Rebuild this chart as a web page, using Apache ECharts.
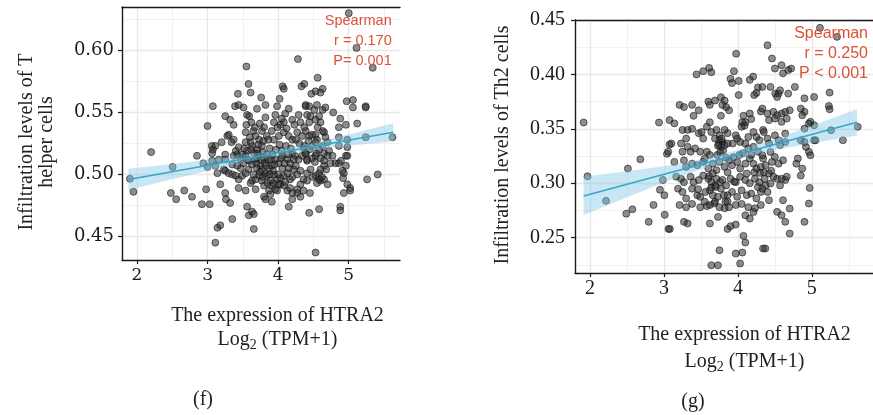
<!DOCTYPE html>
<html style="height: 100%">

<head>
    <meta charset="utf-8">
    <title>HTRA2 vs T helper / Th2 infiltration</title>
</head>

<body style="height: 100%; margin: 0; background: #fff">
    <div id="container" style="width: 873px; height: 415px"></div>
    <script src="https://cdn.jsdelivr.net/npm/echarts@6/dist/echarts.min.js"></script>
    <script type="text/javascript">
        // ---- data ----
        var xTicks = [2, 3, 4, 5];
        var xMinor = [1.5, 2.5, 3.5, 4.5, 5.5];
        var yTicksF = [0.45, 0.50, 0.55, 0.60];
        var yMinorF = [0.425, 0.475, 0.525, 0.575, 0.625];
        var yTicksG = [0.25, 0.30, 0.35, 0.40, 0.45];
        var yMinorG = [0.225, 0.275, 0.325, 0.375, 0.425];

        // (f) T helper cells
        var pointsF = [
            [1.90, 0.4965], [1.95, 0.486], [2.20, 0.518], [2.505, 0.506], [2.48, 0.485], [2.556, 0.480],
            [2.67, 0.487], [2.78, 0.482], [2.85, 0.515], [2.92, 0.476], [2.94, 0.509], [3.0, 0.539],
            [3.075, 0.555], [2.98, 0.488], [3.03, 0.476], [3.0, 0.506], [3.06, 0.523], [3.075, 0.520],
            [3.55, 0.587], [3.58, 0.573], [3.61, 0.566], [3.43, 0.565], [3.39, 0.555], [3.44, 0.556],
            [3.51, 0.554], [3.76, 0.562], [3.70, 0.553], [3.82, 0.556], [3.985, 0.555], [4.065, 0.571],
            [4.08, 0.569], [4.02, 0.561], [4.28, 0.593], [4.33, 0.571], [4.15, 0.553], [4.10, 0.549],
            [3.25, 0.547], [3.32, 0.544], [3.37, 0.540], [3.30, 0.532], [3.56, 0.548], [3.59, 0.547],
            [3.62, 0.542], [3.82, 0.546], [3.94, 0.542], [3.96, 0.548], [4.03, 0.540], [4.08, 0.542],
            [4.20, 0.544], [4.29, 0.548], [4.315, 0.542], [4.39, 0.555], [3.11, 0.523], [3.20, 0.526],
            [3.065, 0.517], [3.37, 0.528], [3.34, 0.526], [3.28, 0.531], [3.54, 0.534], [3.65, 0.535],
            [3.68, 0.531], [3.73, 0.528], [3.77, 0.535], [3.84, 0.531], [3.63, 0.523], [3.54, 0.526],
            [3.56, 0.519], [3.70, 0.520], [3.77, 0.523], [3.91, 0.535], [3.94, 0.528], [4.01, 0.531],
            [4.08, 0.534], [4.15, 0.531], [4.20, 0.528], [4.27, 0.534], [4.34, 0.531], [4.39, 0.535],
            [3.25, 0.516], [3.16, 0.512], [3.25, 0.512], [3.37, 0.515], [3.42, 0.516], [3.49, 0.516],
            [3.54, 0.515], [3.065, 0.511], [3.11, 0.507], [3.14, 0.501], [3.23, 0.504], [3.25, 0.503],
            [3.30, 0.501], [3.35, 0.508], [3.42, 0.507], [3.47, 0.505], [3.51, 0.509], [3.585, 0.511],
            [3.63, 0.508], [3.68, 0.512], [3.73, 0.515], [3.80, 0.513], [3.84, 0.516], [3.75, 0.507],
            [3.77, 0.504], [3.82, 0.501], [3.87, 0.505], [3.91, 0.507], [3.96, 0.512], [4.01, 0.509],
            [4.06, 0.515], [4.13, 0.512], [4.17, 0.509], [4.20, 0.517], [4.24, 0.515], [4.29, 0.512],
            [4.34, 0.515], [4.39, 0.517], [4.41, 0.511], [3.35, 0.500], [3.40, 0.499], [3.44, 0.496],
            [3.49, 0.499], [3.54, 0.501], [3.63, 0.495], [3.68, 0.496], [3.73, 0.499], [3.77, 0.495],
            [3.80, 0.491], [3.84, 0.499], [3.89, 0.495], [3.94, 0.500], [3.985, 0.496], [4.03, 0.492],
            [4.08, 0.499], [4.13, 0.501], [4.17, 0.496], [4.22, 0.504], [4.27, 0.500], [4.315, 0.503],
            [4.36, 0.496], [4.41, 0.501], [3.44, 0.489], [3.54, 0.487], [3.61, 0.493], [3.68, 0.488],
            [3.80, 0.482], [3.87, 0.487], [3.91, 0.491], [3.96, 0.488], [4.01, 0.492], [4.08, 0.491],
            [4.13, 0.487], [4.17, 0.489], [4.20, 0.485], [4.27, 0.488], [4.315, 0.492], [4.36, 0.487],
            [3.18, 0.492], [3.25, 0.485], [3.26, 0.480], [3.32, 0.477], [3.35, 0.464], [3.14, 0.457],
            [3.18, 0.459], [3.11, 0.445], [3.56, 0.474], [3.63, 0.470], [3.655, 0.468], [3.585, 0.467],
            [3.655, 0.456], [3.82, 0.480], [3.89, 0.484], [3.985, 0.487], [3.91, 0.478], [4.15, 0.474],
            [4.20, 0.480], [4.27, 0.485], [4.315, 0.482],
            [5.0, 0.630], [5.11, 0.602], [5.34, 0.586], [4.56, 0.578], [4.37, 0.573], [4.63, 0.569],
            [4.53, 0.567], [4.60, 0.566], [4.47, 0.565], [4.97, 0.559], [5.06, 0.560], [5.06, 0.554],
            [5.24, 0.555], [5.24, 0.554], [4.39, 0.556], [4.44, 0.555], [4.51, 0.552], [4.55, 0.556],
            [4.63, 0.552], [4.67, 0.554], [4.78, 0.550], [4.41, 0.548], [4.46, 0.547], [4.53, 0.544],
            [4.58, 0.547], [4.60, 0.542], [4.44, 0.542], [4.37, 0.538], [4.88, 0.545], [4.86, 0.538],
            [4.96, 0.540], [5.12, 0.541], [4.44, 0.531], [4.53, 0.532], [4.55, 0.528], [4.65, 0.534],
            [4.67, 0.530], [4.63, 0.535], [4.70, 0.526], [4.86, 0.530], [4.98, 0.528], [5.24, 0.530],
            [5.62, 0.530], [4.37, 0.523], [4.44, 0.520], [4.48, 0.523], [4.53, 0.526], [4.58, 0.520],
            [4.63, 0.523], [4.65, 0.517], [4.72, 0.519], [4.39, 0.517], [4.86, 0.523], [4.98, 0.522],
            [4.96, 0.515], [4.41, 0.512], [4.48, 0.513], [4.53, 0.515], [4.60, 0.513], [4.65, 0.511],
            [4.70, 0.515], [4.77, 0.515], [4.81, 0.509], [4.86, 0.509], [4.89, 0.511], [4.96, 0.507],
            [4.98, 0.515], [4.46, 0.504], [4.58, 0.501], [4.65, 0.507], [4.91, 0.503], [4.93, 0.501],
            [4.53, 0.499], [4.58, 0.496], [4.60, 0.495], [4.65, 0.496], [4.70, 0.492], [4.55, 0.493],
            [4.41, 0.495], [4.92, 0.497], [4.98, 0.492], [5.02, 0.489], [5.02, 0.487], [4.93, 0.485],
            [5.26, 0.496], [5.41, 0.500], [4.45, 0.485], [4.44, 0.469], [4.58, 0.472], [4.88, 0.474],
            [4.88, 0.471], [4.53, 0.437],
            [3.62, 0.520], [3.66, 0.517], [3.70, 0.513], [3.72, 0.524], [3.78, 0.518], [3.81, 0.509],
            [3.86, 0.512], [3.88, 0.521], [3.92, 0.516], [3.97, 0.520], [4.02, 0.524], [4.05, 0.519],
            [4.11, 0.523], [4.14, 0.516], [4.18, 0.521], [3.60, 0.530], [3.67, 0.538], [3.74, 0.541],
            [3.80, 0.538], [3.86, 0.528], [3.99, 0.538], [4.05, 0.545], [4.12, 0.537], [4.23, 0.540],
            [3.58, 0.504], [3.65, 0.500], [3.70, 0.505], [3.78, 0.498], [3.85, 0.493], [3.93, 0.503],
            [4.00, 0.500], [4.06, 0.505], [4.10, 0.494], [4.20, 0.498], [4.25, 0.507], [3.52, 0.521],
            [3.47, 0.512], [3.44, 0.522], [3.40, 0.519], [3.55, 0.540], [4.30, 0.525], [4.36, 0.521],
            [4.25, 0.528], [4.43, 0.527], [4.48, 0.532], [4.56, 0.538], [4.52, 0.510], [4.68, 0.504],
            [4.74, 0.509], [4.62, 0.498],
            [3.71, 0.517], [3.76, 0.512], [3.74, 0.502], [3.83, 0.507], [3.90, 0.512], [3.79, 0.527],
            [3.95, 0.508], [4.04, 0.513], [4.09, 0.509], [3.57, 0.512], [3.61, 0.526], [3.69, 0.509],
            [4.15, 0.505], [4.22, 0.512], [3.88, 0.500], [3.93, 0.493], [4.03, 0.497], [4.54, 0.517],
            [4.60, 0.504], [4.49, 0.498]
        ];
        var fitXF = [1.88, 5.63];
        var fitYF = [0.496, 0.534];
        var bandXF = [1.88, 2.5, 3, 3.5, 4, 4.5, 5, 5.63];
        var bandHiF = [0.5045, 0.5085, 0.5118, 0.5154, 0.5201, 0.5255, 0.5321, 0.5412];
        var bandLoF = [0.4875, 0.4961, 0.5028, 0.5094, 0.5149, 0.5195, 0.5231, 0.5268];

        // (g) Th2 cells
        var pointsG = [
            [1.913, 0.3558], [1.965, 0.3064], [2.216, 0.2838], [2.511, 0.3135], [2.68, 0.322], [2.932, 0.3558],
            [3.075, 0.358], [2.49, 0.272], [2.572, 0.276], [2.793, 0.2645], [2.858, 0.280], [2.984, 0.303],
            [2.945, 0.294], [3.005, 0.289], [3.01, 0.271], [3.06, 0.258], [3.04, 0.327], [3.075, 0.3355],
            [3.976, 0.419], [3.44, 0.400], [3.53, 0.403], [3.61, 0.406], [3.64, 0.402], [3.946, 0.403],
            [3.90, 0.396], [3.92, 0.392], [4.01, 0.394], [4.206, 0.398], [4.16, 0.395], [4.27, 0.388],
            [4.25, 0.383], [4.22, 0.381], [4.01, 0.381], [3.21, 0.372], [3.27, 0.370], [3.38, 0.372],
            [3.47, 0.367], [3.40, 0.362], [3.60, 0.375], [3.62, 0.372], [3.69, 0.376], [3.77, 0.379],
            [3.82, 0.376], [3.79, 0.372], [3.84, 0.370], [3.77, 0.362], [3.88, 0.367], [4.075, 0.362],
            [4.16, 0.364], [4.10, 0.356], [4.05, 0.352], [4.18, 0.359], [4.31, 0.366], [3.14, 0.355],
            [3.25, 0.349], [3.32, 0.349], [3.30, 0.341], [3.38, 0.350], [3.47, 0.346], [3.51, 0.347],
            [3.53, 0.341], [3.58, 0.352], [3.62, 0.356], [3.64, 0.347], [3.71, 0.349], [3.75, 0.344],
            [3.69, 0.341], [3.82, 0.349], [3.86, 0.346], [3.75, 0.3395], [3.79, 0.338], [3.77, 0.3335],
            [3.82, 0.335], [3.86, 0.3365], [3.99, 0.341], [3.97, 0.344], [4.03, 0.338], [4.10, 0.3365],
            [4.14, 0.3425], [4.21, 0.347], [4.25, 0.3425], [4.29, 0.3395], [4.34, 0.349], [4.14, 0.332],
            [4.21, 0.3335], [4.27, 0.329], [3.10, 0.3365], [3.057, 0.329], [3.23, 0.3365], [3.25, 0.329],
            [3.32, 0.3335], [3.36, 0.329], [3.42, 0.332], [3.49, 0.329], [3.58, 0.329], [3.62, 0.326],
            [3.14, 0.3196], [3.27, 0.321], [3.30, 0.315], [3.38, 0.318], [3.45, 0.3165], [3.53, 0.3196],
            [3.60, 0.3135], [3.66, 0.318], [3.71, 0.312], [3.75, 0.3196], [3.82, 0.315], [3.86, 0.310],
            [3.92, 0.3165], [3.99, 0.3196], [4.03, 0.3135], [4.10, 0.318], [4.16, 0.3227], [4.21, 0.318],
            [4.25, 0.3135], [4.31, 0.315], [4.34, 0.3227], [3.165, 0.306], [3.23, 0.304], [3.27, 0.301],
            [3.36, 0.306], [3.40, 0.301], [3.47, 0.303], [3.53, 0.307], [3.60, 0.304], [3.64, 0.301],
            [3.71, 0.304], [3.79, 0.303], [3.84, 0.298], [3.90, 0.304], [3.97, 0.301], [4.03, 0.306],
            [4.10, 0.303], [4.16, 0.300], [4.23, 0.304], [4.29, 0.301], [4.36, 0.304], [3.19, 0.295],
            [3.25, 0.292], [3.30, 0.286], [3.38, 0.295], [3.45, 0.289], [3.49, 0.2875], [3.56, 0.292],
            [3.62, 0.2935], [3.66, 0.289], [3.73, 0.2875], [3.77, 0.295], [3.86, 0.289], [3.92, 0.292],
            [3.99, 0.2875], [4.05, 0.2935], [4.12, 0.289], [4.18, 0.2905], [4.25, 0.286], [4.31, 0.292],
            [3.21, 0.280], [3.30, 0.278], [3.38, 0.281], [3.49, 0.278], [3.62, 0.280], [3.69, 0.283],
            [3.75, 0.278], [3.82, 0.277], [3.88, 0.278], [3.97, 0.280], [4.05, 0.281], [4.14, 0.278],
            [4.23, 0.277], [4.31, 0.280], [3.08, 0.258], [3.27, 0.2645], [3.32, 0.263], [3.62, 0.263],
            [3.73, 0.269], [3.86, 0.258], [3.90, 0.2605], [3.97, 0.262], [4.10, 0.2705], [4.16, 0.2675],
            [4.21, 0.2735], [4.075, 0.2516], [4.10, 0.2455], [3.75, 0.2384], [3.97, 0.2354], [4.06, 0.2363],
            [3.64, 0.2246], [3.73, 0.2246], [4.03, 0.2262], [4.34, 0.240],
            [5.11, 0.4428], [5.34, 0.4345], [4.40, 0.4268], [4.46, 0.4146], [4.59, 0.4085], [4.61, 0.401],
            [4.68, 0.404], [4.72, 0.4054], [4.50, 0.4054], [4.33, 0.3885], [4.44, 0.3885], [4.505, 0.3824],
            [4.55, 0.3824], [4.53, 0.3793], [4.57, 0.3854], [4.68, 0.3824], [4.77, 0.3885], [4.90, 0.378],
            [5.03, 0.3793], [5.24, 0.3833], [5.23, 0.371], [5.24, 0.368], [4.33, 0.3686], [4.40, 0.364],
            [4.48, 0.3656], [4.53, 0.3625], [4.59, 0.364], [4.64, 0.3656], [4.70, 0.367], [4.42, 0.358],
            [4.50, 0.3594], [4.59, 0.3564], [4.66, 0.3594], [4.85, 0.3686], [4.90, 0.3656], [4.87, 0.3625],
            [4.98, 0.3564], [4.96, 0.3548], [5.03, 0.3533], [4.90, 0.3502], [5.26, 0.3487], [5.42, 0.3395],
            [5.62, 0.3518], [5.03, 0.3395], [5.05, 0.3395], [4.35, 0.347], [4.40, 0.341], [4.50, 0.344],
            [4.55, 0.3395], [4.57, 0.335], [4.64, 0.338], [4.42, 0.3365], [4.64, 0.3456], [4.85, 0.3395],
            [4.92, 0.3334], [4.96, 0.3288], [4.98, 0.3257], [4.90, 0.338], [4.33, 0.3257], [4.44, 0.3288],
            [4.50, 0.3242], [4.46, 0.3196], [4.375, 0.3165], [4.55, 0.318], [4.61, 0.3211], [4.81, 0.3227],
            [4.87, 0.3135], [4.79, 0.318], [4.35, 0.310], [4.42, 0.309], [4.48, 0.306], [4.53, 0.304],
            [4.59, 0.304], [4.64, 0.303], [4.66, 0.306], [4.85, 0.307], [4.375, 0.298], [4.44, 0.2997],
            [4.40, 0.292], [4.33, 0.295], [4.57, 0.298], [4.42, 0.2844], [4.61, 0.2844], [4.97, 0.2957],
            [4.96, 0.2813], [4.70, 0.2767], [4.53, 0.2737], [4.59, 0.2706], [4.90, 0.2645], [4.64, 0.2645],
            [4.70, 0.2537], [4.37, 0.240],
            [3.74, 0.336], [3.78, 0.341], [3.80, 0.330], [3.72, 0.326], [3.66, 0.309], [3.69, 0.298],
            [3.76, 0.301], [3.81, 0.289], [3.64, 0.296], [4.06, 0.356], [4.09, 0.353], [4.02, 0.326],
            [4.18, 0.326], [4.22, 0.310], [4.12, 0.309], [3.94, 0.324], [3.88, 0.321], [3.55, 0.283],
            [3.58, 0.279], [3.83, 0.283], [3.86, 0.283],
            [3.73, 0.3345], [3.76, 0.3285], [3.70, 0.2965], [3.61, 0.3065], [3.93, 0.3365], [4.07, 0.3275],
            [4.30, 0.3095], [4.45, 0.3115], [3.95, 0.3015], [3.55, 0.3225], [3.46, 0.2945], [4.27, 0.2965],
            [3.68, 0.2815], [3.84, 0.3235]
        ];
        var fitXG = [1.913, 5.61];
        var fitYG = [0.2883, 0.356];
        var bandXG = [1.913, 2.5, 3, 3.5, 4, 4.5, 5, 5.61];
        var bandHiG = [0.3059, 0.3110, 0.3157, 0.3218, 0.3305, 0.3406, 0.3528, 0.3682];
        var bandLoG = [0.2707, 0.2870, 0.3007, 0.3128, 0.3225, 0.3306, 0.3368, 0.3438];

        // ---- styles ----
        var ink = '#1a1a1a';
        var red = '#dd5236';
        var lineBlue = '#35a7c8';
        var bandFill = 'rgba(125, 195, 228, 0.42)';
        var serif = '"Liberation Serif", "DejaVu Serif", serif';

        var myChart = echarts.init(document.getElementById('container'), null, { renderer: 'canvas' });

        function mainX(grid, min, max, font, size, margin) {
            return {
                type: 'value', gridIndex: grid, min: min, max: max, position: 'bottom',
                axisLine: { show: true, lineStyle: { color: ink, width: 1.4 } },
                axisTick: { show: true, length: 4, customValues: xTicks, lineStyle: { color: ink, width: 1.2 } },
                axisLabel: { customValues: xTicks, color: ink, fontFamily: font, fontSize: size, margin: margin },
                splitLine: { show: true, lineStyle: { color: '#e8e8e8', width: 1.4 } }
            };
        }
        function minorX(grid, min, max) {
            return {
                type: 'value', gridIndex: grid, min: min, max: max, position: 'top',
                axisLine: { show: true, lineStyle: { color: ink, width: 1.4 } },
                axisTick: { show: false, customValues: xMinor },
                axisLabel: { show: false },
                splitLine: { show: true, lineStyle: { color: '#efefef', width: 0.9 } }
            };
        }
        function mainY(grid, min, max, ticks, font, size, margin) {
            return {
                type: 'value', gridIndex: grid, min: min, max: max, position: 'left',
                axisLine: { show: true, lineStyle: { color: ink, width: 1.4 } },
                axisTick: { show: true, length: 4, customValues: ticks, lineStyle: { color: ink, width: 1.2 } },
                axisLabel: {
                    customValues: ticks, color: ink, fontFamily: font, fontSize: size, margin: margin,
                    formatter: function (v) { return v.toFixed(2); }
                },
                splitLine: { show: true, lineStyle: { color: '#e8e8e8', width: 1.4 } }
            };
        }
        function minorY(grid, min, max, ticks) {
            return {
                type: 'value', gridIndex: grid, min: min, max: max, position: 'right',
                axisLine: { show: false },
                axisTick: { show: false, customValues: ticks },
                axisLabel: { show: false },
                splitLine: { show: true, lineStyle: { color: '#efefef', width: 0.9 } }
            };
        }

        function bandSeries(xi, yi, bx, hi, lo) {
            return {
                type: 'custom', xAxisIndex: xi, yAxisIndex: yi, z: 4, silent: true,
                data: [0],
                renderItem: function (params, api) {
                    var pts = [];
                    for (var i = 0; i < bx.length; i++) pts.push(api.coord([bx[i], hi[i]]));
                    for (var j = bx.length - 1; j >= 0; j--) pts.push(api.coord([bx[j], lo[j]]));
                    return { type: 'polygon', shape: { points: pts }, style: { fill: bandFill } };
                }
            };
        }
        function pointSeries(xi, yi, pts) {
            return {
                type: 'scatter', xAxisIndex: xi, yAxisIndex: yi, z: 3, symbolSize: 7, data: pts,
                itemStyle: { color: 'rgba(45, 45, 45, 0.68)', borderColor: 'rgba(15, 15, 15, 0.7)', borderWidth: 1 }
            };
        }
        function fitSeries(xi, yi, fx, fy) {
            return {
                type: 'line', xAxisIndex: xi, yAxisIndex: yi, z: 5, showSymbol: false,
                data: fx.map(function (x, i) { return [x, fy[i]]; }),
                lineStyle: { color: lineBlue, width: 1.5 }
            };
        }

        function txt(x, y, text, font, color, align, rot) {
            return {
                type: 'text', x: x, y: y, rotation: rot || 0, z: 10,
                style: {
                    text: text, font: font, fill: color,
                    align: align, textAlign: align, verticalAlign: 'middle', textVerticalAlign: 'middle',
                    lineHeight: 20
                }
            };
        }
        function logText(x, y) {
            return {
                type: 'text', x: x, y: y, z: 10,
                style: {
                    text: '{n|Log}{s|2}{n| (TPM+1)}',
                    align: 'center', textAlign: 'center', verticalAlign: 'middle', textVerticalAlign: 'middle',
                    fill: '#222',
                    rich: {
                        n: { fontFamily: serif, fontSize: 20, lineHeight: 24, color: '#222' },
                        s: { fontFamily: serif, fontSize: 14, lineHeight: 10, verticalAlign: 'bottom', color: '#222' }
                    }
                }
            };
        }

        var option = {
            animation: false,
            backgroundColor: '#fff',
            grid: [
                { left: 122, top: 7, width: 278, height: 253, show: false },
                { left: 575, top: 20, width: 310, height: 253, show: false }
            ],
            xAxis: [
                mainX(0, 1.788, 5.726, '"DejaVu Serif", serif', 17, 7),
                minorX(0, 1.788, 5.726),
                mainX(1, 1.796, 5.827, serif, 20, 6),
                minorX(1, 1.796, 5.827)
            ],
            yAxis: [
                mainY(0, 0.431, 0.635, yTicksF, '"DejaVu Serif", serif', 18, 8),
                minorY(0, 0.431, 0.635, yMinorF),
                mainY(1, 0.2175, 0.45, yTicksG, serif, 20, 10),
                minorY(1, 0.2175, 0.45, yMinorG)
            ],
            series: [
                pointSeries(0, 0, pointsF),
                bandSeries(0, 0, bandXF, bandHiF, bandLoF),
                fitSeries(0, 0, fitXF, fitYF),
                pointSeries(2, 2, pointsG),
                bandSeries(2, 2, bandXG, bandHiG, bandLoG),
                fitSeries(2, 2, fitXG, fitYG)
            ],
            graphic: [
                txt(391.7, 20.7, 'Spearman', '14.5px "Liberation Sans", Arial, sans-serif', red, 'right'),
                txt(391.7, 40.7, 'r = 0.170', '14.5px "Liberation Sans", Arial, sans-serif', red, 'right'),
                txt(391.7, 60.5, 'P= 0.001', '14.5px "Liberation Sans", Arial, sans-serif', red, 'right'),
                txt(868, 33.3, 'Spearman', '16px "Liberation Sans", Arial, sans-serif', red, 'right'),
                txt(868, 53.3, 'r = 0.250', '16px "Liberation Sans", Arial, sans-serif', red, 'right'),
                txt(868, 73.3, 'P < 0.001', '16px "Liberation Sans", Arial, sans-serif', red, 'right'),
                txt(37, 142, 'Infiltration levels of T\nhelper cells', '20px ' + serif, '#222', 'center', Math.PI / 2),
                txt(503, 145, 'Infiltration levels of Th2 cells', '20px ' + serif, '#222', 'center', Math.PI / 2),
                txt(277.5, 316, 'The expression of HTRA2', '20px ' + serif, '#222', 'center'),
                logText(277.5, 340),
                txt(744.5, 335, 'The expression of HTRA2', '20px ' + serif, '#222', 'center'),
                logText(744.5, 362),
                txt(203, 400, '(f)', '20px ' + serif, '#222', 'center'),
                txt(693, 402, '(g)', '20px ' + serif, '#222', 'center')
            ]
        };
        myChart.setOption(option);
    </script>
</body>

</html>
